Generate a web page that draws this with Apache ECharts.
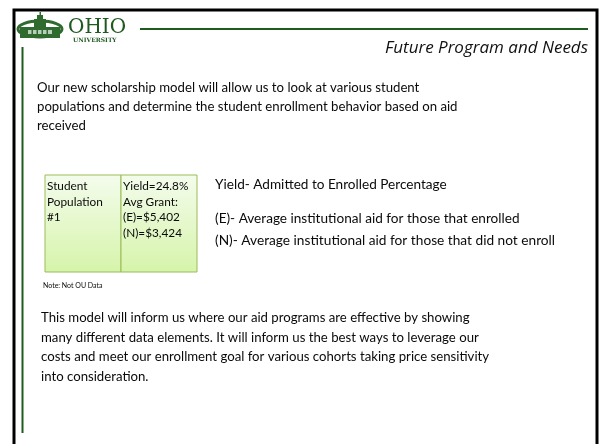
<!DOCTYPE html>
<html>
<head>
<meta charset="utf-8">
<script src="https://cdn.jsdelivr.net/npm/echarts@6/dist/echarts.min.js"></script>
<style>
  html, body { margin: 0; padding: 0; background: #fff; }
  #slide { width: 602px; height: 444px; }
</style>
</head>
<body>
<div id="slide"></div>
<script>
// slide content
const slideTitle = 'Future Program and Needs';
const introLines = [
  'Our new scholarship model will allow us to look at various student',
  'populations and determine the student enrollment behavior based on aid',
  'received'
];
const populationLabel = ['Student', 'Population', '#1'];
const yieldPct = [24.8];
const grantKeys = ['E', 'N'];
const grantValues = [5402, 3424];
const legendLines = [
  'Yield- Admitted to Enrolled Percentage',
  '(E)- Average institutional aid for those that enrolled',
  '(N)- Average institutional aid for those that did not enroll'
];
const noteText = 'Note: Not OU Data';
const outroLines = [
  'This model will inform us where our aid programs are effective by showing',
  'many different data elements. It will inform us the best ways to leverage our',
  'costs and meet our enrollment goal for various cohorts taking price sensitivity',
  'into consideration.'
];

const chart = echarts.init(document.getElementById('slide'));
const FONT = 'Lato, "Open Sans", sans-serif';
const GREEN = '#1f5a1f';
const fmt = v => '$' + v.toLocaleString('en-US');

const statLines = ['Yield=' + yieldPct[0].toFixed(1) + '%', 'Avg Grant:']
  .concat(grantKeys.map((k, i) => '(' + k + ')=' + fmt(grantValues[i])));

function textEl(str, x, y, size, weight) {
  return {
    type: 'text', x: x, y: y,
    style: { text: str, font: (weight || 'normal') + ' ' + size + 'px ' + FONT, fill: '#0a0a0a', verticalAlign: 'middle' }
  };
}

const els = [];
// frame
els.push({ type: 'polyline', shape: { points: [[14, 444], [14, 10], [597, 10], [597, 444]] },
  style: { stroke: '#000', lineWidth: 3, fill: null } });
els.push({ type: 'line', shape: { x1: 22.5, y1: 47, x2: 22.5, y2: 433 }, style: { stroke: GREEN, lineWidth: 2 } });
els.push({ type: 'line', shape: { x1: 140, y1: 29, x2: 588, y2: 29 }, style: { stroke: GREEN, lineWidth: 2 } });

// logo
const LG = '#2f6a2f';
els.push({ type: 'ellipse', shape: { cx: 40, cy: 29, rx: 22, ry: 8 }, style: { fill: null, stroke: LG, lineWidth: 3 } });
els.push({ type: 'rect', shape: { x: 20, y: 27, width: 40, height: 11 }, style: { fill: LG } });
els.push({ type: 'rect', shape: { x: 34, y: 19, width: 12, height: 9 }, style: { fill: LG } });
els.push({ type: 'rect', shape: { x: 37, y: 15, width: 6, height: 5 }, style: { fill: LG } });
els.push({ type: 'rect', shape: { x: 39.5, y: 12, width: 1.5, height: 4 }, style: { fill: LG } });
els.push({ type: 'rect', shape: { x: 28, y: 30, width: 24, height: 4 }, style: { fill: '#b9cfb9' } });
[30, 35, 40, 45].forEach(x => {
  els.push({ type: 'rect', shape: { x: x + 1.5, y: 30, width: 1.5, height: 4 }, style: { fill: LG } });
});
els.push({ type: 'text', x: 68, y: 28, style: { text: 'OHIO', font: '20px "DejaVu Serif", serif', fill: GREEN, verticalAlign: 'middle' } });
els.push({ type: 'text', x: 73, y: 40, style: { text: 'UNIVERSITY', font: 'bold 6px "DejaVu Serif", serif', fill: GREEN, verticalAlign: 'middle' } });

// title
els.push({ type: 'text', x: 588, y: 48,
  style: { text: slideTitle, font: 'italic 17px "Open Sans", sans-serif', fill: '#111', align: 'right', verticalAlign: 'middle' } });

introLines.forEach((l, i) => els.push(textEl(l, 37, 88 + i * 19, 13.2)));

// table
const grad = new echarts.graphic.LinearGradient(0, 0, 0, 1, [
  { offset: 0, color: '#f4fced' }, { offset: 1, color: '#d6f4aa' }
]);
els.push({ type: 'rect', shape: { x: 45, y: 175, width: 76, height: 97 }, style: { fill: grad, stroke: '#9bbb59', lineWidth: 1 } });
els.push({ type: 'rect', shape: { x: 121, y: 175, width: 76, height: 97 }, style: { fill: grad, stroke: '#9bbb59', lineWidth: 1 } });
populationLabel.forEach((l, i) => els.push(textEl(l, 47, 186 + i * 15.7, 11.8)));
statLines.forEach((l, i) => els.push(textEl(l, 123, 186 + i * 15.7, 11.8)));

els.push(textEl(legendLines[0], 215, 185, 13.6));
els.push(textEl(legendLines[1], 215, 219, 13.6));
els.push(textEl(legendLines[2], 215, 241, 13.7));

els.push(textEl(noteText, 43, 286, 7));

outroLines.forEach((l, i) => els.push(textEl(l, 41, 318 + i * 19.5, 13.2)));

chart.setOption({
  backgroundColor: '#fff',
  animation: false,
  graphic: { elements: els }
});
</script>
</body>
</html>
